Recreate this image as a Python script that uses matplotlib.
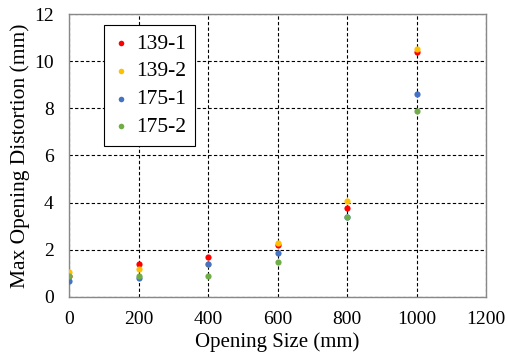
import matplotlib.pyplot as plt

# Datos
opening = [0, 200, 400, 600, 800, 1000]
d139_1 = [0.90, 1.38, 1.68, 2.19, 3.79, 10.40]
d139_2 = [1.07, 1.19, 1.40, 2.27, 4.08, 10.50]
d175_1 = [0.69, 0.78, 1.38, 1.88, 3.40, 8.59]
d175_2 = [0.89, 0.89, 0.89, 1.47, 3.38, 7.90]

series = [
    ("139-1", d139_1, "#FF0000"),
    ("139-2", d139_2, "#FFC000"),
    ("175-1", d175_1, "#4472C4"),
    ("175-2", d175_2, "#70AD47"),
]

plt.rcParams["font.family"] = ["Liberation Serif", "DejaVu Serif"]

fig = plt.figure(figsize=(5.08, 3.62), dpi=100)
ax = fig.add_axes([0.136, 0.180, 0.821, 0.781])

for label, vals, color in series:
    ax.scatter(opening, vals, s=20, color=color, label=label, zorder=3, linewidths=0)

ax.set_xlim(0, 1200)
ax.set_ylim(0, 12)
ax.set_xticks(range(0, 1201, 200))
ax.set_yticks(range(0, 13, 2))
ax.tick_params(length=0, labelsize=14)
ax.tick_params(axis="x", pad=10)
ax.tick_params(axis="y", pad=11)
ax.grid(True, color="black", linestyle=(0, (3, 2)), linewidth=0.8)
ax.set_axisbelow(True)
for sp in ax.spines.values():
    sp.set_color("#888888")
    sp.set_linewidth(1.0)

ax.set_xlabel("Opening Size (mm)", fontsize=15, labelpad=3)
ax.set_ylabel("Max Opening Distortion (mm)", fontsize=15.5, labelpad=3)

leg = ax.legend(loc="upper left", bbox_to_anchor=(104 / 508, 1 - 25 / 362),
                bbox_transform=fig.transFigure, fontsize=15.5, borderaxespad=0,
                frameon=True, fancybox=False, edgecolor="black", framealpha=1,
                handletextpad=0.35, borderpad=0.4, labelspacing=0.36,
                handlelength=0.75, markerscale=0.9)
leg.get_frame().set_linewidth(0.8)

plt.savefig("out.png", dpi=100)
